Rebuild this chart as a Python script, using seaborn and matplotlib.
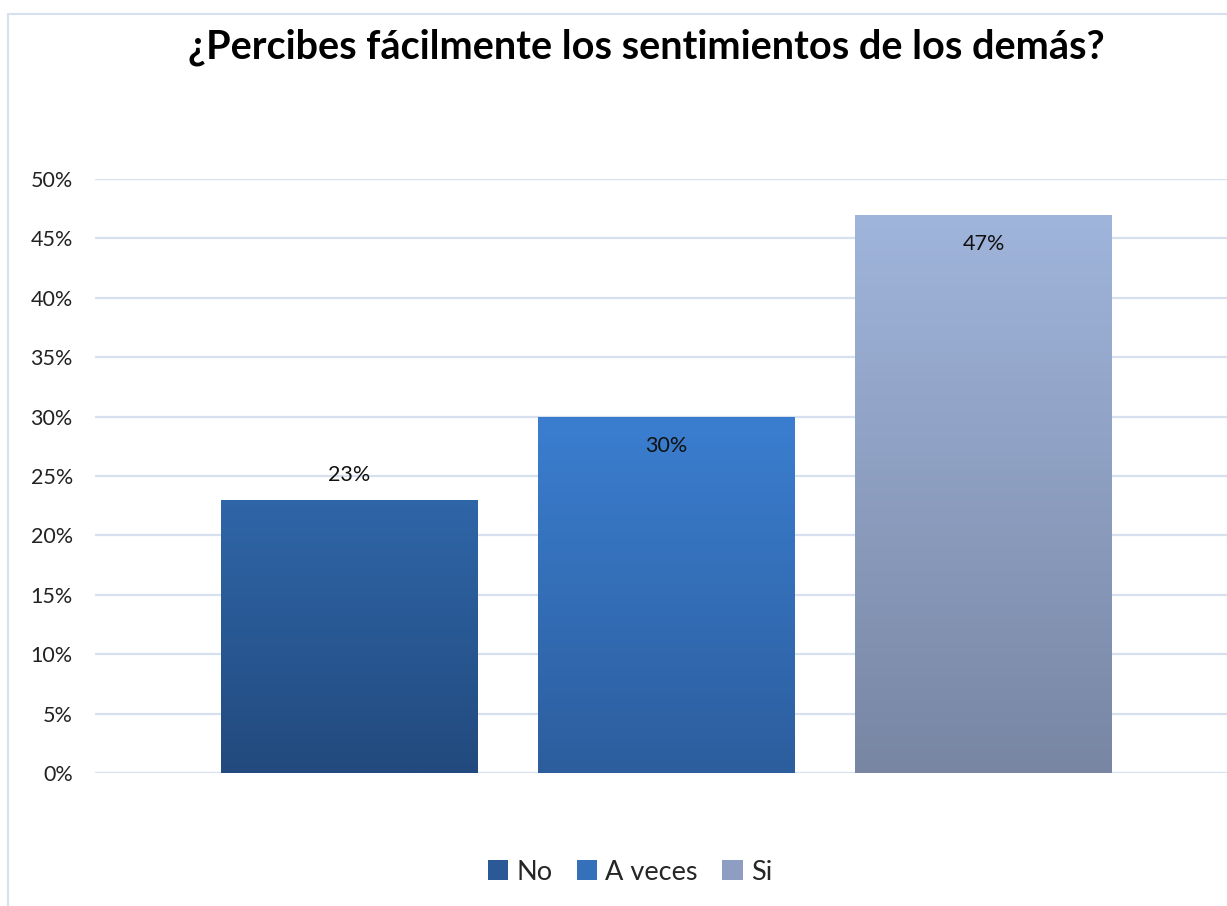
import numpy as np
import matplotlib
matplotlib.use("Agg")
import matplotlib.pyplot as plt
import seaborn as sns
from matplotlib.patches import Patch, Rectangle
from matplotlib.colors import LinearSegmentedColormap

categories = ["No", "A veces", "Si"]
values = [0.23, 0.30, 0.47]
labels = ["23%", "30%", "47%"]
yticks = [0, 0.05, 0.10, 0.15, 0.20, 0.25, 0.30, 0.35, 0.40, 0.45, 0.50]
ytick_labels = ["0%", "5%", "10%", "15%", "20%", "25%", "30%", "35%", "40%", "45%", "50%"]
title = "¿Percibes fácilmente los sentimientos de los demás?"

top_colors = ["#2f66a8", "#3b7ed0", "#a0b5dc"]
bottom_colors = ["#224a7e", "#2c5e9e", "#7886a3"]
mid_colors = ["#2b5995", "#3570bb", "#8d9ec2"]

sns.set_theme(style="white")
plt.rcParams["font.family"] = ["Lato", "DejaVu Sans"]

W, H = 1227, 906
fig = plt.figure(figsize=(W / 100, H / 100), dpi=100)
ax = fig.add_axes([95 / W, 1 - 773 / H, 1 - 95 / W, (773 - 179) / H])

sns.barplot(x=categories, y=values, hue=categories, palette=mid_colors,
            legend=False, width=0.81, ax=ax, saturation=1)

ax.set_ylim(0, 0.5)
ax.set_xlim(-0.803, 2.768)
ax.set_yticks(yticks)
ax.set_yticklabels(ytick_labels, fontsize=15.5, color="#222222")
ax.set_xticks([])
ax.tick_params(axis="y", length=0, pad=16)
for s in ax.spines.values():
    s.set_visible(False)
ax.yaxis.grid(True, color="#d6e0ef", linewidth=1.6)
ax.set_axisbelow(True)
ax.set_xlabel("")
ax.set_ylabel("")

# gradient fill on bars
patches = [p for p in ax.patches]
for i, p in enumerate(patches):
    x0, y0 = p.get_x(), p.get_y()
    w, h = p.get_width(), p.get_height()
    cmap = LinearSegmentedColormap.from_list("g", [bottom_colors[i], top_colors[i]])
    grad = np.linspace(0, 1, 256).reshape(-1, 1)
    im = ax.imshow(grad, extent=[x0, x0 + w, y0, y0 + h], origin="lower",
                   cmap=cmap, aspect="auto", zorder=p.get_zorder() + 0.1)
    im.set_clip_path(p)
    p.set_edgecolor("none")

ax.set_xlim(-0.803, 2.768)
ax.set_ylim(0, 0.5)

# data labels
offsets = [0.021, -0.025, -0.025]
for i, (v, lab) in enumerate(zip(values, labels)):
    ax.text(i, v + offsets[i], lab, ha="center", va="center",
            fontsize=15.5, color="#111111", zorder=10)

fig.text(646 / W, 1 - 47 / H, title, ha="center", va="center",
         fontsize=28.5, fontweight="bold", color="black")

handles = [Patch(facecolor=c, edgecolor="none") for c in mid_colors]
fig.legend(handles, categories, loc="center", bbox_to_anchor=(630 / W, 1 - 872 / H),
           ncol=3, frameon=False, fontsize=19.5, handlelength=0.75, handleheight=0.75,
           handletextpad=0.3, columnspacing=0.9)

fig.patches.append(Rectangle((8 / W, -0.1), 1.2, 1 - 14 / H + 0.1,
                             transform=fig.transFigure, fill=False,
                             edgecolor="#d6e0ef", linewidth=1.5))

fig.savefig("out.png", dpi=100)
